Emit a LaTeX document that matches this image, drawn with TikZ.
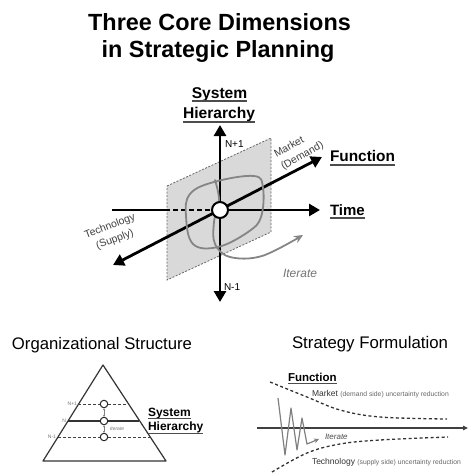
\documentclass[tikz,border=0pt]{standalone}
\usepackage{fontspec}
\setmainfont{Liberation Sans}
\usetikzlibrary{arrows.meta}
\begin{document}
\begin{tikzpicture}[x=1pt,y=-1pt,
  txt/.style={inner sep=0pt, outer sep=0pt},
  axis/.style={line width=2.8pt, black},
  bigtip/.style={-{Triangle[length=11pt,width=12pt]}},
  loopline/.style={line width=1.8pt, black!48, line cap=round, line join=round},
  ul/.style={line width=1.6pt, black!70},
  plane/.style={fill=black!15, draw=black!60, line width=0.8pt, dash pattern=on 2pt off 1.5pt},
  rotlbl/.style={txt, font=\fontsize{10.5}{14}\selectfont, text=black!75},
  pyr/.style={line width=1.2pt, black!80, line join=round},
  lvl/.style={line width=1pt, black!75, dash pattern=on 3pt off 2pt},
  tiny/.style={txt, font=\fontsize{5}{5}\selectfont, text=black!55},
  sm/.style={draw=black!85, fill=white, line width=1pt, smallring},
  smallring/.style={shape=circle, inner sep=0pt, minimum size=7.5pt},
  crv/.style={line width=1.3pt, black!80, dash pattern=on 3pt off 2.5pt},
]
\useasboundingbox (0,0) rectangle (474,474);

% ---------- title ----------
\node[txt, anchor=base, font=\fontsize{23.4}{27}\bfseries\selectfont] (t1) at (219.5,30) {Three Core Dimensions};
\node[txt, anchor=base, font=\fontsize{23.4}{27}\bfseries\selectfont] (t2) at (218,57) {in Strategic Planning};

% ---------- main diagram ----------
\coordinate (p1) at (167,186);
\coordinate (p2) at (271,138);
\coordinate (p3) at (271,232);
\coordinate (p4) at (167,280);
\draw[plane] (p1) -- (p2) -- (p3) -- (p4) -- cycle;

\coordinate (hL) at (112,210);
\coordinate (hD) at (165,210);
\coordinate (hC) at (212,210);
\coordinate (hM) at (220,210);
\coordinate (hR) at (320,210);
\draw[axis] (hL) -- (hD);
\draw[axis, dash pattern=on 5pt off 3pt] (hD) -- (hC);
\draw[axis, bigtip] (hM) -- (hR);

\coordinate (dL) at (113,265);
\coordinate (dR) at (322,157);
\draw[axis, {Triangle[length=11pt,width=12pt]}-{Triangle[length=11pt,width=12pt]}] (dL) -- (dR);

\coordinate (vT) at (220,125);
\coordinate (vB) at (220,302);
\draw[axis, {Triangle[length=11pt,width=12pt]}-{Triangle[length=11pt,width=12pt]}] (vB) -- (vT);

% loops
\draw[loopline] plot[smooth cycle, tension=0.65] coordinates {(186,216) (190,194) (214,182) (254,176) (263,188) (261,217) (248,232) (218,247) (193,244)};
\draw[loopline, -{Stealth[length=9pt,width=8pt]}] plot[smooth, tension=0.6] coordinates {(215,180) (219,200) (214,222) (215,244) (230,257) (262,256) (303,235)};

\node[circle, draw, fill=white, line width=2pt, minimum size=16pt, inner sep=0pt] (c) at (220,210) {};

% labels
\node[txt, anchor=base, font=\fontsize{15.6}{17}\bfseries\selectfont] (sys) at (219.5,98) {System};
\node[txt, anchor=base, font=\fontsize{15.6}{17}\bfseries\selectfont] (hier) at (219,118) {Hierarchy};
\draw[ul] ([yshift=-3pt]sys.base west) -- ([yshift=-3pt]sys.base east);
\draw[ul] ([yshift=-4pt]hier.base west) -- ([yshift=-4pt]hier.base east);

\node[txt, anchor=base west, font=\fontsize{15.4}{17}\bfseries\selectfont] (fn) at (330,161.7) {Function};
\draw[ul] ([yshift=-3pt]fn.base west) -- ([yshift=-3pt]fn.base east);
\node[txt, anchor=base west, font=\fontsize{15}{17}\bfseries\selectfont] (tm) at (330,215) {Time};
\draw[ul] ([yshift=-3pt]tm.base west) -- ([yshift=-3pt]tm.base east);

\node[txt, anchor=base west, font=\fontsize{10}{11}\selectfont] (np) at (225,147) {N+1};
\node[txt, anchor=base west, font=\fontsize{10}{11}\selectfont] (nm) at (224,290) {N-1};

\node[rotlbl, rotate=29, align=left] (mk) at (299,150) {Market\\(Demand)};
\node[rotlbl, rotate=21, align=center] (tc) at (112.5,233) {Technology\\(Supply)};

\node[txt, anchor=base west, font=\fontsize{12}{13}\itshape\selectfont, text=black!55] (it) at (283,277) {Iterate};

% ---------- organizational structure ----------
\node[txt, anchor=base, font=\fontsize{16.7}{18}\selectfont] (os) at (102,349) {Organizational Structure};

\coordinate (a1) at (103,365);
\coordinate (a2) at (166,461);
\coordinate (a3) at (43,461);
\draw[pyr] (a1) -- (a2) -- (a3) -- cycle;

\coordinate (l1a) at (78,404);  \coordinate (l1b) at (129,404);
\coordinate (l2a) at (68,421);  \coordinate (l2b) at (139,421);
\coordinate (l3a) at (58,437);  \coordinate (l3b) at (150,437);
\draw[lvl] (l1a) -- (l1b);
\draw[line width=1.1pt, black!80] (l2a) -- (l2b);
\draw[lvl] (l3a) -- (l3b);

\node[tiny, anchor=east] (n1) at (77,404) {N+1};
\node[tiny, anchor=east] (n2) at (66,421) {N};
\node[tiny, anchor=east] (n3) at (56,437) {N-1};

\node[sm] (s1) at (104,404) {};
\node[sm] (s2) at (104,421) {};
\node[sm] (s3) at (104,437) {};
\draw[black!50, line width=0.6pt, {Stealth[length=2pt,width=2pt]}-{Stealth[length=2pt,width=2pt]}] (s1) -- (s2);
\draw[black!50, line width=0.6pt, {Stealth[length=2pt,width=2pt]}-{Stealth[length=2pt,width=2pt]}] (s2) -- (s3);
\node[tiny, anchor=base west, font=\fontsize{5}{5}\itshape\selectfont] (it2) at (110,430) {Iterate};

\node[txt, anchor=base west, font=\fontsize{12}{13}\bfseries\selectfont] (sys2) at (148,416) {System};
\node[txt, anchor=base west, font=\fontsize{12}{13}\bfseries\selectfont] (hier2) at (148,430) {Hierarchy};
\draw[ul, line width=1.2pt] ([yshift=-2.5pt]sys2.base west) -- ([yshift=-2.5pt]sys2.base east);
\draw[ul, line width=1.2pt] ([yshift=-3.5pt]hier2.base west) -- ([yshift=-3.5pt]hier2.base east);

% ---------- strategy formulation ----------
\node[txt, anchor=base, font=\fontsize{16.8}{18}\selectfont] (sf) at (370,348) {Strategy Formulation};

\node[txt, anchor=base west, font=\fontsize{11.5}{12}\bfseries\selectfont] (fn2) at (288,381) {Function};
\draw[ul, line width=1.2pt] ([yshift=-2.5pt]fn2.base west) -- ([yshift=-2.5pt]fn2.base east);

\draw[crv] plot[smooth, tension=0.6] coordinates {(270,382) (307,397) (340,410) (380,417) (447,419)};
\draw[crv] plot[smooth, tension=0.6] coordinates {(272,472) (307,453) (340,444) (380,440) (448,437)};

\coordinate (xa) at (257,428);
\coordinate (xb) at (468,428);
\draw[line width=1.5pt, black!75, -{Triangle[length=5pt,width=4.5pt]}] (xa) -- (xb);

\draw[black!50, line width=1.2pt, line join=round, -{Stealth[length=5pt,width=5pt]}] (278,398) -- (285,455) -- (291,408) -- (297,450) -- (302,418) -- (307,444) -- (319,439);
\node[txt, anchor=base west, font=\fontsize{8}{9}\itshape\selectfont, text=black!70] (it3) at (325,439.5) {Iterate};

\node[txt, anchor=base west] (mk2) at (312,396) {\fontsize{8.5}{9}\selectfont\color{black!80}Market \fontsize{6.8}{8}\selectfont\color{black!60}(demand side) uncertainty reduction};
\node[txt, anchor=base west] (tc2) at (312,464) {\fontsize{8.5}{9}\selectfont\color{black!80}Technology \fontsize{6.8}{8}\selectfont\color{black!60}(supply side) uncertainty reduction};
\end{tikzpicture}
\end{document}
